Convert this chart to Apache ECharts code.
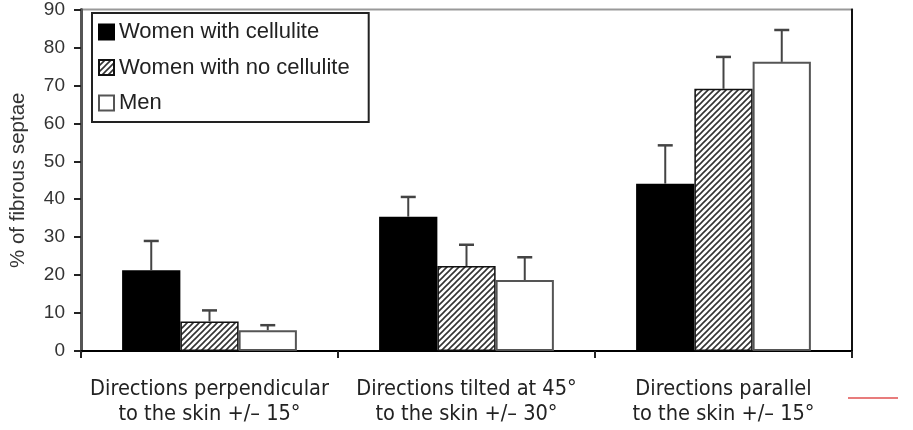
<!DOCTYPE html>
<html>
<head>
<meta charset="utf-8">
<script src="https://cdn.jsdelivr.net/npm/echarts@6/dist/echarts.min.js"></script>
<style>html,body{margin:0;padding:0;background:#fff;}#c{width:913px;height:430px;}</style>
</head>
<body>
<div id="c"></div>
<script>
const categories = [
  'Directions perpendicular\nto the skin +/\u2013 15\u00b0',
  'Directions tilted at 45\u00b0\nto the skin +/\u2013 30\u00b0',
  'Directions parallel\nto the skin +/\u2013 15\u00b0'
];
const seriesNames = ['Women with cellulite', 'Women with no cellulite', 'Men'];
const cellulite = [21.3, 35.4, 44.1];
const celluliteSD = [7.7, 5.2, 10.1];
const noCellulite = [7.8, 22.4, 69.1];
const noCelluliteSD = [2.9, 5.6, 8.4];
const men = [5.5, 18.7, 76.2];
const menSD = [1.3, 6.0, 8.4];
const yTicks = { min: 0, max: 90, interval: 10 };
const yTitle = '% of fibrous septae';

function hatch() {
  const c = document.createElement('canvas');
  c.width = 6; c.height = 6;
  const g = c.getContext('2d');
  g.fillStyle = '#fff'; g.fillRect(0, 0, 6, 6);
  g.strokeStyle = '#333'; g.lineWidth = 1.6;
  g.beginPath();
  g.moveTo(-1, 7); g.lineTo(7, -1);
  g.moveTo(-4, 4); g.lineTo(4, -4);
  g.moveTo(2, 10); g.lineTo(10, 2);
  g.stroke();
  return c;
}

const BAR_FRAC = 0.68;
const values = [cellulite, noCellulite, men];
const sds = [celluliteSD, noCelluliteSD, menSD];
const styles = [
  { color: '#000', borderColor: '#000', borderWidth: 1.5 },
  { color: { image: hatch(), repeat: 'repeat' }, borderColor: '#111', borderWidth: 1.5 },
  { color: '#fff', borderColor: '#555', borderWidth: 2 }
];

const series = [];
values.forEach((v, i) => {
  series.push({
    name: seriesNames[i], type: 'bar', data: v,
    barGap: '0%', barCategoryGap: '32%',
    itemStyle: styles[i]
  });
});
sds.forEach((sd, i) => {
  series.push({
    name: 'err' + i, type: 'custom', z: 5,
    data: sd.map((s, k) => [k, values[i][k], s]),
    encode: { x: 0, y: 1 },
    renderItem: function (params, api) {
      const p0 = api.coord([api.value(0), api.value(1)]);
      const p1 = api.coord([api.value(0), api.value(1) + api.value(2)]);
      const band = api.size([1, 0])[0];
      const bw = band * BAR_FRAC / 3;
      const x = p0[0] + (i - 1) * bw;
      return {
        type: 'group', children: [
          { type: 'line', shape: { x1: x, y1: p0[1], x2: x, y2: p1[1] }, style: { stroke: '#444', lineWidth: 2 } },
          { type: 'line', shape: { x1: x - 7.5, y1: p1[1], x2: x + 7.5, y2: p1[1] }, style: { stroke: '#444', lineWidth: 2.5 } }
        ]
      };
    }
  });
});

const chart = echarts.init(document.getElementById('c'), null, { renderer: 'canvas' });
chart.setOption({
  animation: false,
  backgroundColor: '#fff',
  textStyle: { fontFamily: 'Liberation Sans, Arial, sans-serif' },
  grid: { left: 80, right: 61, top: 6, bottom: 79, show: true, borderColor: '#999', borderWidth: 2 },
  legend: {
    data: seriesNames, orient: 'vertical', left: 92, top: 13, icon: 'rect',
    borderColor: '#222', borderWidth: 2, padding: [8, 19, 8, 6],
    itemWidth: 15, itemHeight: 15, itemGap: 13.5,
    textStyle: { fontSize: 22, color: '#222', fontFamily: 'Liberation Sans, Arial, sans-serif' }
  },
  xAxis: {
    type: 'category', data: categories,
    axisLine: { lineStyle: { color: '#000', width: 2 } },
    axisTick: { show: true, interval: 0, length: 7, lineStyle: { color: '#222', width: 2 } },
    axisLabel: {
      interval: 0, hideOverlap: false,
      margin: 26, fontSize: 21.6, lineHeight: 25, color: '#222',
      fontFamily: 'Liberation Sans Narrow, Arial Narrow, DejaVu Sans Condensed, sans-serif'
    }
  },
  yAxis: [{
    type: 'value', min: yTicks.min, max: yTicks.max, interval: yTicks.interval,
    name: yTitle, nameLocation: 'middle', nameRotate: 90, nameGap: 52,
    nameTextStyle: { fontSize: 20.5, color: '#333' },
    axisLine: { show: true, lineStyle: { color: '#555', width: 3 } },
    axisTick: { show: true, length: 7, lineStyle: { color: '#222', width: 2 } },
    axisLabel: { fontSize: 19, color: '#333', margin: 16 },
    splitLine: { show: false }
  }, {
    type: 'value', position: 'right', min: yTicks.min, max: yTicks.max, interval: yTicks.interval,
    axisLine: { show: true, lineStyle: { color: '#111', width: 2 } },
    axisTick: { show: false }, axisLabel: { show: false }, splitLine: { show: false }
  }],
  graphic: [{
    type: 'line', shape: { x1: 848, y1: 398, x2: 898, y2: 398 },
    style: { stroke: '#e05050', lineWidth: 1.5 }
  }],
  series: series
});
</script>
</body>
</html>
